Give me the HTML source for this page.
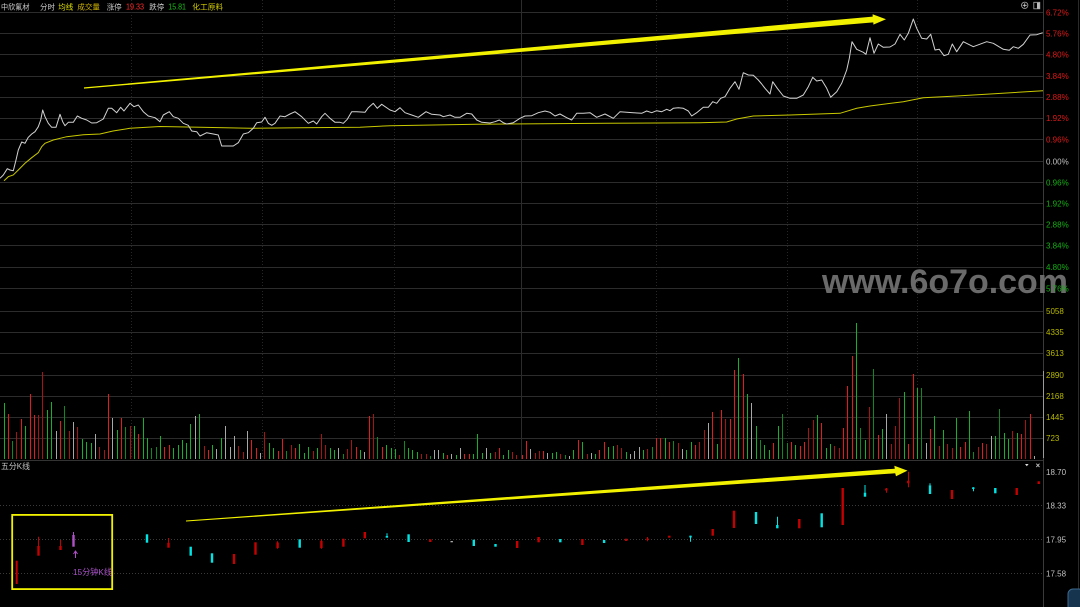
<!DOCTYPE html>
<html><head><meta charset="utf-8"><style>
html,body{margin:0;padding:0;background:#000;}
svg{display:block;}
text{font-family:"Liberation Sans","Noto Sans CJK SC",sans-serif;}
</style></head><body>
<svg width="1080" height="607" viewBox="0 0 1080 607" xmlns="http://www.w3.org/2000/svg">
<rect width="1080" height="607" fill="#000"/>
<!-- main grid -->
<g stroke="#2c2c2c" stroke-width="1">
<path d="M0 12.5H1043M0 33.5H1043M0 54.5H1043M0 76.5H1043M0 97.5H1043M0 118.5H1043M0 139.5H1043M0 161.5H1043M0 182.5H1043M0 203.5H1043M0 224.5H1043M0 245.5H1043M0 267.5H1043M0 288.5H1043"/>
<path d="M0 311.5H1043M0 332.5H1043M0 353.5H1043M0 375.5H1043M0 396.5H1043M0 417.5H1043M0 438.5H1043"/>
</g>
<g stroke="#262626" stroke-width="1" stroke-dasharray="1,2">
<path d="M131.5 0V459M262.5 0V459M394.5 0V459M656.5 0V459M787.5 0V459M917.5 0V459"/>
</g>
<path d="M521.5 0V459" stroke="#2c2c2c" stroke-width="1"/>
<path d="M0 460.5H1043" stroke="#333" stroke-width="1"/>
<!-- bottom panel dotted -->
<g stroke="#3a3a3a" stroke-width="1" stroke-dasharray="1,2">
<path d="M0 505.5H1043M0 539.5H1043M0 573.5H1043"/>
</g>
<!-- right axis lines -->
<path d="M1043.5 0V607" stroke="#3a3a3a"/>
<path d="M1043.5 371V458" stroke="#9a9a9a"/>
<path d="M1078.5 0V607" stroke="#2a2a2a"/>

<!-- watermark -->
<text x="822" y="293" font-size="34" font-weight="bold" fill="#6a6a6a" textLength="246" lengthAdjust="spacingAndGlyphs">www.6o7o.com</text>

<!-- volume bars -->
<g stroke-width="1" fill="none">
<path stroke="#e21c1c" d="M8.5 459v-45M21.5 459v-40M30.5 459v-65M34.5 459v-44M60.5 459v-38M108.5 459v-65M121.5 459v-41M138.5 459v-25M164.5 459v-12M169.5 459v-14M208.5 459v-9M251.5 459v-19M256.5 459v-11M278.5 459v-8M282.5 459v-20M295.5 459v-11M356.5 459v-12M369.5 459v-43M382.5 459v-12M447.5 459v-4M464.5 459v-5M469.5 459v-5M499.5 459v-11M522.5 459v-4M526.5 459v-18M543.5 459v-8M578.5 459v-19M599.5 459v-9M604.5 459v-17M656.5 459v-21M660.5 459v-21M669.5 459v-17M695.5 459v-14M712.5 459v-47M721.5 459v-49M730.5 459v-40M734.5 459v-89M743.5 459v-85M773.5 459v-16M791.5 459v-17M800.5 459v-13M804.5 459v-17M821.5 459v-36M843.5 459v-31M847.5 459v-73M852.5 459v-103M878.5 459v-24M908.5 459v-15M913.5 459v-85M930.5 459v-30M960.5 459v-12M965.5 459v-17M982.5 459v-16M1021.5 459v-25M1030.5 459v-45"/>
<path stroke="#a81414" d="M16.5 459v-27M38.5 459v-44M42.5 459v-87M69.5 459v-28M77.5 459v-32M99.5 459v-12M104.5 459v-9M130.5 459v-33M204.5 459v-13M238.5 459v-13M243.5 459v-7M264.5 459v-27M291.5 459v-14M313.5 459v-8M321.5 459v-25M325.5 459v-14M347.5 459v-10M351.5 459v-19M373.5 459v-45M399.5 459v-4M421.5 459v-5M426.5 459v-5M495.5 459v-7M512.5 459v-7M516.5 459v-4M535.5 459v-6M539.5 459v-8M560.5 459v-5M587.5 459v-5M617.5 459v-14M621.5 459v-11M647.5 459v-10M678.5 459v-16M699.5 459v-17M704.5 459v-29M725.5 459v-40M808.5 459v-31M813.5 459v-39M834.5 459v-13M839.5 459v-11M869.5 459v-52M891.5 459v-15M895.5 459v-33M899.5 459v-61M939.5 459v-13M947.5 459v-15M952.5 459v-11M978.5 459v-12M986.5 459v-15M1012.5 459v-28M1025.5 459v-39"/>
<path stroke="#14b22a" d="M4.5 459v-56M25.5 459v-33M47.5 459v-49M51.5 459v-57M82.5 459v-20M86.5 459v-17M91.5 459v-16M117.5 459v-29M134.5 459v-33M143.5 459v-41M147.5 459v-21M160.5 459v-23M173.5 459v-11M178.5 459v-14M182.5 459v-19M186.5 459v-16M190.5 459v-35M199.5 459v-45M212.5 459v-14M221.5 459v-21M269.5 459v-16M273.5 459v-11M299.5 459v-15M304.5 459v-6M308.5 459v-12M317.5 459v-11M330.5 459v-11M334.5 459v-9M360.5 459v-9M386.5 459v-14M391.5 459v-11M395.5 459v-10M408.5 459v-11M412.5 459v-9M417.5 459v-7M443.5 459v-6M456.5 459v-4M473.5 459v-5M477.5 459v-25M482.5 459v-6M490.5 459v-6M503.5 459v-4M508.5 459v-9M552.5 459v-6M556.5 459v-7M573.5 459v-9M582.5 459v-17M595.5 459v-5M608.5 459v-12M613.5 459v-13M626.5 459v-7M643.5 459v-9M665.5 459v-21M686.5 459v-9M691.5 459v-17M717.5 459v-15M738.5 459v-101M747.5 459v-65M756.5 459v-33M764.5 459v-14M769.5 459v-9M778.5 459v-33M795.5 459v-14M817.5 459v-44M826.5 459v-11M830.5 459v-15M856.5 459v-136M865.5 459v-19M882.5 459v-30M904.5 459v-67M917.5 459v-71M934.5 459v-43M943.5 459v-29M956.5 459v-41M969.5 459v-48M995.5 459v-23M1004.5 459v-26M1008.5 459v-20M1017.5 459v-26"/>
<path stroke="#0e8a20" d="M12.5 459v-18M64.5 459v-53M125.5 459v-32M151.5 459v-11M156.5 459v-12M286.5 459v-8M343.5 459v-5M377.5 459v-22M404.5 459v-18M430.5 459v-3M565.5 459v-4M652.5 459v-12M673.5 459v-18M760.5 459v-19M782.5 459v-45M787.5 459v-16M860.5 459v-31M873.5 459v-90M921.5 459v-71M973.5 459v-7M999.5 459v-50"/>
<path stroke="#a8a8a8" d="M56.5 459v-28M73.5 459v-37M95.5 459v-25M112.5 459v-41M195.5 459v-43M216.5 459v-10M225.5 459v-33M230.5 459v-12M234.5 459v-23M247.5 459v-28M260.5 459v-6M338.5 459v-11M364.5 459v-7M434.5 459v-9M438.5 459v-9M451.5 459v-5M460.5 459v-11M486.5 459v-11M530.5 459v-10M547.5 459v-6M569.5 459v-3M591.5 459v-6M630.5 459v-5M634.5 459v-8M639.5 459v-12M682.5 459v-10M708.5 459v-36M751.5 459v-56M886.5 459v-45M926.5 459v-16M991.5 459v-23M1034.5 459v-3"/>
</g>

<!-- avg line -->
<polyline fill="none" stroke="#c8c800" stroke-width="1" points="4,180.7 8.3,176.7 13.3,175 18.3,170 25,163.3 31.7,157.7 38.3,152.7 41.7,146.7 45,143.3 53.3,140 66.7,136.7 83.3,134.7 100,134 113,131 130,128.3 160,126.5 200,127.3 250,128.3 300,127.7 360,127.3 390,125.7 476.7,124.3 506.7,124 606.7,123.3 700,122.7 726.7,122 736.7,119 753.3,116 790,115 840,113.3 856.7,108.3 870,106 903.3,101.7 923.3,97.7 956.7,96 990,94 1043,90.7"/>
<!-- price line -->
<polyline fill="none" stroke="#d2d2d2" stroke-width="1" stroke-linejoin="round" points="0,178.3 3.3,175 7.3,168.7 10,170 13.3,170.7 16,160 18.3,150 21.7,142 25,143.3 28.3,137.3 31.7,134 35,131.7 38.3,126.7 40.7,120 42.7,110 45,116.7 48.3,123.3 51.7,127.3 56,127.3 60,114.3 62.7,121.7 65,125.7 68.3,122.3 73.3,122.3 77.3,116 81.7,118.3 86.7,120 91.7,123 96.7,122.7 103.3,119 108.3,108.3 111.7,108.3 116.7,112.7 120.7,107.3 124,111 130,103.3 134,106.7 138.3,105 143.3,111.7 148.3,116 155,117.7 160,121.7 163.3,115 169.3,111.7 173.3,116.7 178.3,118.3 183.3,123.3 188.3,125.3 191.7,131 196.7,131.7 200,136 206.7,132.7 213.3,134 218.3,135 221.7,146 233.3,146 238.3,142.7 243.3,134 248.3,132.7 253.3,128.3 256.7,122.7 261.7,122 265,117.3 268.3,123.3 271.7,125.3 275,123.3 280,116 285,116.7 290,114 295,111.7 301.7,116.7 308.3,123.3 313.3,121 316.7,124 321.7,116.7 325,113.3 330,118.3 335,122.3 340,122.3 343.3,123.3 347.3,119.3 351.7,111.7 356.7,111.7 365,112.3 368.3,107.7 373.3,103.3 377.3,108.3 381.7,104.3 390,110 395,111.7 400,107.7 405,112.7 411.7,115 418.3,117.3 426,111.7 431.7,114.3 440,115 443.3,116.7 450,115 455,117.3 460,117.3 466.7,113.3 471.7,114 476.7,120 481.7,122.3 490,123 495,121.7 499.3,120 503.3,122.7 506.7,124 513.3,122.7 520,118.3 525,116 531.7,115.7 538.3,112.7 545,111 550,112.3 555,116 560,114 566.7,117.7 571.7,120 576.7,113.3 583.3,113.3 590,112.7 596.7,117.3 605,114 613.3,118.3 620,111.7 633.3,112.7 641.7,113.3 646.7,111 651.7,112.7 656.7,110.7 661.7,111.7 666.7,109.3 670,110.7 673.3,108.3 678.3,107.7 683.3,108.3 688.3,111 691.7,116 696.7,112.7 703.3,107.3 708.3,107.3 712.7,101.7 716.7,103.3 720.7,98.3 725,96.7 730,88.3 735,81.7 739,89.3 743.3,72.7 748.3,75 753.3,75.3 758.3,80 761.7,84 765,88.3 770,94 772.7,81.7 777.3,88.3 783.3,96 790,98.3 796.7,98.3 803.3,95 808.3,86.7 812.7,77.3 816.7,81 821.7,80 826.7,88.3 830.7,97.3 836.7,91.7 841.7,83.3 846.7,70 849.3,58.3 852,41.7 856.7,49.3 863.3,52.3 866,54.3 870,37.7 874,53.3 878.3,44 883.3,47.3 890,47 895,44 900,34.3 904.3,40 908.3,33.3 913.3,19 916.7,28.3 921.7,38.3 926.7,39 930.7,34.3 935,50 939.3,49.3 944,55.7 948.3,54.3 952.3,44 956.7,51.7 963.3,41.7 973.3,46.7 986.7,41.7 993.3,43.3 1003.3,49.3 1009.3,50.3 1013.3,46.7 1018.3,48.3 1023.3,44.3 1030,35 1036.7,34.7 1042.7,32.7"/>

<!-- top arrow -->
<polygon fill="#f2f200" points="84,87.4 872.7,16.6 872.6,14.3 886,19.3 873.4,24.6 873.3,22.4 84,88.6"/>
<!-- bottom arrow -->
<polygon fill="#f2f200" points="186,520.5 894.8,468.7 894.3,465.8 907.5,470.6 896,476.3 895.2,473.3 186,521.5"/>

<!-- yellow box -->
<rect x="12.2" y="514.9" width="100" height="74.2" fill="none" stroke="#f2f200" stroke-width="1.8"/>

<!-- candles -->
<g stroke-width="1">
<g fill="#c40000" stroke="#c40000">
<rect x="15.7" y="560.7" width="2" height="23.3" stroke="none"/>
<path d="M38.5 536.7V546M60.5 540V546M168.5 538V542.7M277.5 541.3V548.7M321.5 539.3V548.7M647.5 537V541.3M886.5 488V492.7M908.5 471.7V487.3"/>
<rect x="37.3" y="546" width="2.4" height="9.7" stroke="none"/>
<rect x="59.3" y="546" width="2.4" height="4" stroke="none"/>
<rect x="167.3" y="542.7" width="2.4" height="5" stroke="none"/>
<rect x="232.8" y="554" width="2.4" height="10" stroke="none"/>
<rect x="254.3" y="542.3" width="2.4" height="12.4" stroke="none"/>
<rect x="276.4" y="542.5" width="2.4" height="5.5" stroke="none"/>
<rect x="320.2" y="541" width="2.4" height="7" stroke="none"/>
<rect x="342.2" y="538.7" width="2.4" height="8" stroke="none"/>
<rect x="363.6" y="532" width="2.4" height="6.3" stroke="none"/>
<rect x="429.1" y="539.3" width="2.4" height="2.7" stroke="none"/>
<rect x="516" y="541" width="2.4" height="7" stroke="none"/>
<rect x="537.4" y="537" width="2.4" height="5.3" stroke="none"/>
<rect x="581.2" y="539" width="2.4" height="6" stroke="none"/>
<rect x="625" y="538.7" width="2.4" height="2.3" stroke="none"/>
<rect x="646.4" y="538.5" width="2.4" height="1.5" stroke="none"/>
<rect x="668.1" y="535.7" width="2.4" height="2" stroke="none"/>
<rect x="711.5" y="529" width="2.4" height="6.7" stroke="none"/>
<rect x="732.8" y="510.7" width="2.4" height="17.3" stroke="none"/>
<rect x="798.1" y="519" width="2.4" height="9.3" stroke="none"/>
<rect x="841.5" y="488" width="2.4" height="37" stroke="none"/>
<rect x="885.1" y="488.5" width="2.4" height="2" stroke="none"/>
<rect x="907.1" y="480.7" width="2.4" height="2.6" stroke="none"/>
<rect x="950.8" y="490" width="2.4" height="9" stroke="none"/>
<rect x="1015.5" y="488" width="2.4" height="7" stroke="none"/>
<rect x="1037.5" y="481.3" width="2.4" height="2.7" stroke="none"/>
</g>
<g fill="#00e4e4" stroke="#00e4e4">
<path d="M387 533.3V536M690.5 535.7V541.7M777.5 516.7V525M865 485V492.7M930 483.3V485.3M973.5 487.3V491.3"/>
<rect x="145.8" y="534.3" width="2.4" height="8.4" stroke="none"/>
<rect x="189.5" y="546.7" width="2.4" height="9" stroke="none"/>
<rect x="210.8" y="553.3" width="2.4" height="9.4" stroke="none"/>
<rect x="298.5" y="539.3" width="2.4" height="8.4" stroke="none"/>
<rect x="385.7" y="536" width="2.4" height="1.7" stroke="none"/>
<rect x="407.4" y="534.3" width="2.4" height="7.7" stroke="none"/>
<rect x="472.6" y="539.7" width="2.4" height="6.3" stroke="none"/>
<rect x="494.3" y="544" width="2.4" height="2.7" stroke="none"/>
<rect x="559.1" y="539" width="2.4" height="3.3" stroke="none"/>
<rect x="602.9" y="540" width="2.4" height="3" stroke="none"/>
<rect x="689.3" y="535.7" width="2.4" height="1.8" stroke="none"/>
<rect x="754.8" y="512" width="2.4" height="12" stroke="none"/>
<rect x="776.1" y="525" width="2.4" height="3.3" stroke="none"/>
<rect x="820.5" y="513.3" width="2.4" height="14" stroke="none"/>
<rect x="863.8" y="492.7" width="2.4" height="4" stroke="none"/>
<rect x="928.8" y="485.3" width="2.4" height="8.7" stroke="none"/>
<rect x="972.1" y="487.3" width="2.4" height="1.7" stroke="none"/>
<rect x="994.1" y="488" width="2.4" height="5.3" stroke="none"/>
</g>
<rect x="450.5" y="541" width="2.4" height="1.3" fill="#aaa"/>
<path d="M73.5 532V535" stroke="#b050c8"/>
<rect x="72.3" y="535" width="2.4" height="11.7" fill="#b050c8"/>
<path d="M75.5 551.5V558M73.5 554L75.5 551L77.5 554" stroke="#b050c8" fill="none"/>
</g>
<text x="73" y="575" font-size="8.5" fill="#a850c8" textLength="39" lengthAdjust="spacingAndGlyphs">15分钟K线</text>

<!-- header -->
<g font-size="7.5">
<text x="1" y="9.5" fill="#d0d0d0" textLength="28.5" lengthAdjust="spacingAndGlyphs">中欣氟材</text>
<text x="40" y="9.5" fill="#d0d0d0" textLength="15" lengthAdjust="spacingAndGlyphs">分时</text>
<text x="58.3" y="9.5" fill="#e0e000" textLength="15" lengthAdjust="spacingAndGlyphs">均线</text>
<text x="77.3" y="9.5" fill="#d0b400" textLength="22.7" lengthAdjust="spacingAndGlyphs">成交量</text>
<text x="106.7" y="9.5" fill="#c8c8c8" textLength="15" lengthAdjust="spacingAndGlyphs">涨停</text>
<text x="126" y="9.5" fill="#ff2a2a" font-size="8" textLength="18" lengthAdjust="spacingAndGlyphs">19.33</text>
<text x="149.3" y="9.5" fill="#c8c8c8" textLength="15" lengthAdjust="spacingAndGlyphs">跌停</text>
<text x="168.3" y="9.5" fill="#18c018" font-size="8" textLength="17.7" lengthAdjust="spacingAndGlyphs">15.81</text>
<text x="192.3" y="9.5" fill="#d8d000" textLength="31" lengthAdjust="spacingAndGlyphs">化工原料</text>
</g>
<text x="1" y="469" font-size="8" fill="#c0c0c0" textLength="29" lengthAdjust="spacingAndGlyphs">五分K线</text>

<!-- icons -->
<circle cx="1024.7" cy="5.3" r="3.2" fill="none" stroke="#aaa" stroke-width="0.8"/>
<path d="M1022.7 5.3H1026.7M1024.7 3.3V7.3" stroke="#ccc" stroke-width="0.8"/>
<rect x="1033.8" y="2.3" width="6" height="6.5" fill="none" stroke="#aaa" stroke-width="0.8"/>
<rect x="1037" y="2.7" width="2.5" height="5.8" fill="#bbb"/>
<path d="M1025 464H1028.6L1026.8 466.3Z" fill="#ddd"/>
<path d="M1036.3 463.7L1039.5 467M1039.5 463.7L1036.3 467" stroke="#bbb" stroke-width="0.9"/>
<rect x="1068" y="589" width="16" height="22" rx="5" fill="#17344f" stroke="#3d6a8c" stroke-width="1"/>

<!-- right axis labels -->
<g font-size="8">
<g fill="#e01818">
<text x="1046" y="15.5">6.72%</text>
<text x="1046" y="36.5">5.76%</text>
<text x="1046" y="57.5">4.80%</text>
<text x="1046" y="79">3.84%</text>
<text x="1046" y="100">2.88%</text>
<text x="1046" y="121">1.92%</text>
<text x="1046" y="142.5">0.96%</text>
</g>
<text x="1046" y="164.5" fill="#c0c0c0">0.00%</text>
<g fill="#14b014">
<text x="1046" y="185.5">0.96%</text>
<text x="1046" y="206.5">1.92%</text>
<text x="1046" y="227.5">2.88%</text>
<text x="1046" y="248.5">3.84%</text>
<text x="1046" y="270">4.80%</text>
<text x="1046" y="291.5">5.76%</text>
</g>
<g fill="#b8b800">
<text x="1046" y="314">5058</text>
<text x="1046" y="335">4335</text>
<text x="1046" y="356">3613</text>
<text x="1046" y="378">2890</text>
<text x="1046" y="399">2168</text>
<text x="1046" y="420">1445</text>
<text x="1046" y="441">723</text>
</g>
<g fill="#c0c0c0">
<text x="1046" y="475">18.70</text>
<text x="1046" y="508.5">18.33</text>
<text x="1046" y="542.5">17.95</text>
<text x="1046" y="576.5">17.58</text>
</g>
</g>
</svg>
</body></html>
